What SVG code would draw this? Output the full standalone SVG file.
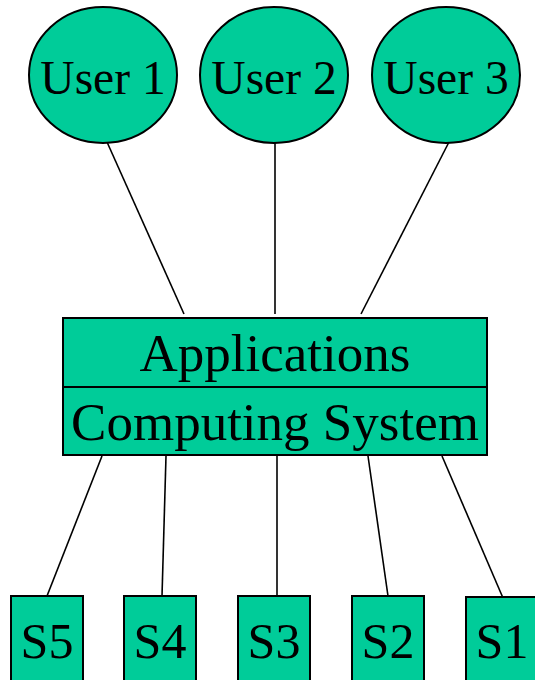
<svg xmlns="http://www.w3.org/2000/svg" width="535" height="680" viewBox="0 0 535 680">
  <style>
    .shape { fill: #00CC99; stroke: #000; stroke-width: 2; }
    .link { stroke: #000; stroke-width: 1.6; fill: none; }
    text { font-family: "Liberation Serif", "Times New Roman", serif; fill: #000; text-anchor: middle; }
    .user { font-size: 47.5px; }
    .layer { font-size: 53px; }
    .store { font-size: 50px; }
  </style>
  <rect width="535" height="680" fill="#fff"/>

  <!-- connectors -->
  <g id="connectors">
    <line class="link" x1="107" y1="142" x2="184" y2="314"/>
    <line class="link" x1="275" y1="140" x2="275" y2="314"/>
    <line class="link" x1="449" y1="142" x2="361" y2="314"/>
    <line class="link" x1="102" y1="456" x2="47" y2="596"/>
    <line class="link" x1="166" y1="456" x2="162" y2="596"/>
    <line class="link" x1="277" y1="456" x2="277" y2="596"/>
    <line class="link" x1="368" y1="456" x2="388" y2="596"/>
    <line class="link" x1="442" y1="456" x2="503" y2="598"/>
  </g>

  <!-- users -->
  <g id="user1">
    <ellipse class="shape" cx="103" cy="75" rx="74" ry="68"/>
    <text class="user" x="103" y="94">User 1</text>
  </g>
  <g id="user2">
    <ellipse class="shape" cx="274" cy="75" rx="74" ry="68"/>
    <text class="user" x="274" y="94">User 2</text>
  </g>
  <g id="user3">
    <ellipse class="shape" cx="446" cy="75" rx="74" ry="68"/>
    <text class="user" x="446" y="94">User 3</text>
  </g>

  <!-- layered system -->
  <g id="applications">
    <rect class="shape" x="63" y="318" width="424" height="69"/>
    <text class="layer" x="275" y="371">Applications</text>
  </g>
  <g id="computing-system">
    <rect class="shape" x="63" y="387" width="424" height="68"/>
    <text class="layer" x="275" y="440">Computing System</text>
  </g>

  <!-- storage units -->
  <g id="s5">
    <rect class="shape" x="11" y="596" width="72" height="100"/>
    <text class="store" x="47" y="658">S5</text>
  </g>
  <g id="s4">
    <rect class="shape" x="124" y="596" width="72" height="100"/>
    <text class="store" x="160" y="658">S4</text>
  </g>
  <g id="s3">
    <rect class="shape" x="238" y="596" width="72" height="100"/>
    <text class="store" x="274" y="658">S3</text>
  </g>
  <g id="s2">
    <rect class="shape" x="352" y="596" width="72" height="100"/>
    <text class="store" x="388" y="658">S2</text>
  </g>
  <g id="s1">
    <rect class="shape" x="466" y="597" width="72" height="100"/>
    <text class="store" x="502" y="658">S1</text>
  </g>
</svg>
